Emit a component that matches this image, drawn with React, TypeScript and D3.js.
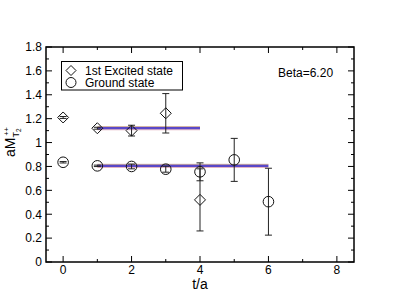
import React from "react";
import * as d3 from "d3";

const excitedT = [0, 1, 2, 3, 4];
const excitedM = [1.21, 1.12, 1.10, 1.245, 0.52];
const excitedErr = [0.008, 0.008, 0.045, 0.165, 0.26];

const groundT = [0, 1, 2, 3, 4, 5, 6];
const groundM = [0.835, 0.805, 0.80, 0.777, 0.755, 0.855, 0.505];
const groundErr = [0.006, 0.006, 0.02, 0.025, 0.075, 0.18, 0.28];

const excitedFit = { value: 1.12, from: 1, to: 4 };
const groundFit = { value: 0.805, from: 1, to: 6 };

const xTicks = [0, 2, 4, 6, 8];
const xMinor = [1, 3, 5, 7];
const yTicks = [0, 0.2, 0.4, 0.6, 0.8, 1, 1.2, 1.4, 1.6, 1.8];
const yMinor = [0.1, 0.3, 0.5, 0.7, 0.9, 1.1, 1.3, 1.5, 1.7];

const legendLabels = ["1st Excited state", "Ground state"];
const annotation = "Beta=6.20";

const W = 399, H = 308;
const L = 46, R = 354, T = 47, B = 262;
const FONT = "Liberation Sans, Arial, sans-serif";

export default function App() {
  const x = d3.scaleLinear().domain([-0.5, 8.5]).range([L, R]);
  const y = d3.scaleLinear().domain([0, 1.8]).range([B, T]);
  const maj = 6, mnr = 3;

  const diamond = (cx: number, cy: number, r = 5.5) =>
    `M${cx},${cy - r}L${cx + r},${cy}L${cx},${cy + r}L${cx - r},${cy}Z`;

  const errBar = (t: number, m: number, e: number, k: string) => {
    const cx = x(t);
    return (
      <g key={k} stroke="#222" strokeWidth={1}>
        <line x1={cx} x2={cx} y1={y(m + e)} y2={y(m - e)} />
        <line x1={cx - 3.5} x2={cx + 3.5} y1={y(m + e)} y2={y(m + e)} />
        <line x1={cx - 3.5} x2={cx + 3.5} y1={y(m - e)} y2={y(m - e)} />
      </g>
    );
  };

  const fitLine = (f: { value: number; from: number; to: number }, k: string) => (
    <g key={k}>
      <line x1={x(f.from)} x2={x(f.to)} y1={y(f.value) - 1.5} y2={y(f.value) - 1.5} stroke="#c8a08c" strokeWidth={1} />
      <line x1={x(f.from)} x2={x(f.to)} y1={y(f.value) + 1.5} y2={y(f.value) + 1.5} stroke="#e0a8b8" strokeWidth={1} />
      <line x1={x(f.from)} x2={x(f.to)} y1={y(f.value)} y2={y(f.value)} stroke="#5a48c8" strokeWidth={2.2} />
    </g>
  );

  return (
    <svg width={W} height={H} style={{ position: "absolute", left: 0, top: 0 }} fontFamily={FONT}>
      <rect width={W} height={H} fill="#fff" />
      <g stroke="#000" strokeWidth={1}>
        {xTicks.map((t) => (
          <g key={"xt" + t}>
            <line x1={x(t)} x2={x(t)} y1={B} y2={B - maj} />
            <line x1={x(t)} x2={x(t)} y1={T} y2={T + maj} />
          </g>
        ))}
        {xMinor.map((t) => (
          <g key={"xm" + t}>
            <line x1={x(t)} x2={x(t)} y1={B} y2={B - mnr} />
            <line x1={x(t)} x2={x(t)} y1={T} y2={T + mnr} />
          </g>
        ))}
        {yTicks.map((v) => (
          <g key={"yt" + v}>
            <line x1={L} x2={L + maj} y1={y(v)} y2={y(v)} />
            <line x1={R} x2={R - maj} y1={y(v)} y2={y(v)} />
          </g>
        ))}
        {yMinor.map((v) => (
          <g key={"ym" + v}>
            <line x1={L} x2={L + mnr} y1={y(v)} y2={y(v)} />
            <line x1={R} x2={R - mnr} y1={y(v)} y2={y(v)} />
          </g>
        ))}
      </g>
      <rect x={L} y={T} width={R - L} height={B - T} fill="none" stroke="#000" strokeWidth={1.5} />
      <g fontSize={12} fill="#000">
        {xTicks.map((t) => (
          <text key={"xl" + t} x={x(t)} y={B + 12} textAnchor="middle">{t}</text>
        ))}
        {yTicks.map((v) => (
          <text key={"yl" + v} x={L - 4} y={y(v) + 4.3} textAnchor="end">{d3.format("~g")(v)}</text>
        ))}
      </g>
      <text x={(L + R) / 2} y={289} fontSize={14} textAnchor="middle">t/a</text>
      <g transform="translate(15,157) rotate(-90)">
        <text x={0} y={0} fontSize={14}>
          aM
          <tspan fontSize={9} dy={4}>T</tspan>
          <tspan fontSize={6.5} dy={2}>2</tspan>
          <tspan fontSize={7} dx={-7} dy={-12}>++</tspan>
        </text>
      </g>
      {fitLine(excitedFit, "ef")}
      {fitLine(groundFit, "gf")}
      {excitedT.map((t, i) => errBar(t, excitedM[i], excitedErr[i], "ee" + i))}
      {groundT.map((t, i) => errBar(t, groundM[i], groundErr[i], "ge" + i))}
      {excitedT.map((t, i) => (
        <path key={"ed" + i} d={diamond(x(t), y(excitedM[i]))} fill="none" stroke="#111" strokeWidth={1} />
      ))}
      {groundT.map((t, i) => (
        <circle key={"gc" + i} cx={x(t)} cy={y(groundM[i])} r={5.3} fill="none" stroke="#111" strokeWidth={1} />
      ))}
      <rect x={61.5} y={61.5} width={121} height={28.5} fill="#fff" stroke="#000" strokeWidth={1} />
      <path d={diamond(71, 70.5, 5)} fill="none" stroke="#111" strokeWidth={1} />
      <circle cx={71} cy={82.5} r={5} fill="none" stroke="#111" strokeWidth={1} />
      <text x={85} y={74.6} fontSize={12}>{legendLabels[0]}</text>
      <text x={85} y={86.8} fontSize={12}>{legendLabels[1]}</text>
      <text x={278} y={76.5} fontSize={12}>{annotation}</text>
    </svg>
  );
}
